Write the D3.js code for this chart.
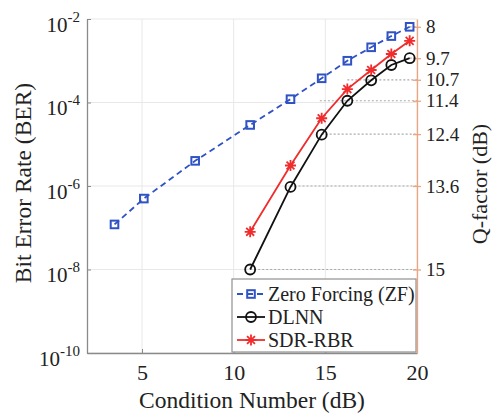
<!DOCTYPE html>
<html>
<head>
<meta charset="utf-8">
<script src="https://cdn.jsdelivr.net/npm/d3@7"></script>
<style>
  body { margin: 0; background: #fff; }
  svg text { font-family: "Liberation Serif", "Times New Roman", serif; fill: #222; }
</style>
</head>
<body>
<svg id="chart" width="492" height="415"></svg>
<script>
// condition numbers (dB)
const zfCond = [3.5, 5.1, 7.9, 10.9, 13.1, 14.8, 16.2, 17.5, 18.6, 19.6];
const zfBer = [1.2e-7, 5e-7, 4e-6, 2.9e-5, 1.2e-4, 3.8e-4, 1.0e-3, 2.1e-3, 3.9e-3, 6.5e-3];

const nnCond = [10.9, 13.1, 14.8, 16.2, 17.5, 18.6, 19.6];
const dlnnBer = [1e-8, 9.5e-7, 1.7e-5, 1.1e-4, 3.4e-4, 7.9e-4, 1.15e-3];
const sdrBer = [8e-8, 3.1e-6, 4.2e-5, 2.1e-4, 6.0e-4, 1.45e-3, 3.0e-3];

const xTicks = [5, 10, 15, 20];
const yTicks = [1e-2, 1e-4, 1e-6, 1e-8, 1e-10];
const yTickExp = ["-2", "-4", "-6", "-8", "-10"];

// right axis: Q-factor labels placed at their BER
const qLabels = ["8", "9.7", "10.7", "11.4", "12.4", "13.6", "15"];
const qBer = [6.5e-3, 1.15e-3, 3.5e-4, 1.1e-4, 1.75e-5, 1e-6, 1e-8];
const qLineFrom = [19.6, 19.6, 16.2, 14.7, 14.8, 13.1, 10.9];

const series = [
  { name: "Zero Forcing (ZF)", x: zfCond, y: zfBer, color: "#2f52c4", dash: "6,4", marker: "square" },
  { name: "DLNN", x: nnCond, y: dlnnBer, color: "#111", dash: null, marker: "circle" },
  { name: "SDR-RBR", x: nnCond, y: sdrBer, color: "#f02c2c", dash: null, marker: "star" }
];

const M = { top: 19, right: 75, bottom: 62, left: 87 };
const W = 492, H = 415;
const svg = d3.select("#chart");

const x = d3.scaleLinear().domain([2, 20]).range([M.left, W - M.right]);
const y = d3.scaleLog().domain([1e-10, 1e-2]).range([H - M.bottom, M.top]);

const orange = "#eca57f";
const axisGray = "#8a8a8a";

// grid
const grid = svg.append("g").attr("stroke", "#e8e8e8").attr("stroke-width", 1);
xTicks.forEach(t => grid.append("line")
  .attr("x1", x(t)).attr("x2", x(t)).attr("y1", y.range()[1]).attr("y2", y.range()[0]));
yTicks.forEach(t => grid.append("line")
  .attr("x1", x.range()[0]).attr("x2", x.range()[1]).attr("y1", y(t)).attr("y2", y(t)));

// dotted Q-factor guides
svg.append("g").selectAll("line").data(qBer).join("line")
  .attr("x1", (d, i) => x(qLineFrom[i])).attr("x2", x.range()[1])
  .attr("y1", d => y(d)).attr("y2", d => y(d))
  .attr("stroke", "#aaa").attr("stroke-width", 1.2).attr("stroke-dasharray", "2,2");

// x axis
const gx = svg.append("g").attr("transform", `translate(0,${y.range()[0]})`)
  .call(d3.axisBottom(x).tickValues(xTicks).tickSizeInner(-4).tickSizeOuter(0).tickPadding(11));
gx.select(".domain").attr("stroke", axisGray).attr("stroke-width", 1.3);
gx.selectAll(".tick line").attr("stroke", axisGray);
gx.selectAll(".tick text").attr("font-size", 22).attr("fill", "#222")
  .attr("font-family", "Liberation Serif, serif");

// y axis (left)
const gy = svg.append("g").attr("transform", `translate(${x.range()[0]},0)`)
  .call(d3.axisLeft(y).tickValues(yTicks).tickSizeInner(-4).tickSizeOuter(0).tickFormat(""));
gy.select(".domain").attr("stroke", axisGray).attr("stroke-width", 1.3);
gy.selectAll(".tick line").attr("stroke", axisGray);
gy.selectAll(".tick").each(function(d, i) {
  const t = d3.select(this).append("text")
    .attr("x", -7).attr("y", 12).attr("text-anchor", "end")
    .attr("font-size", 21).attr("fill", "#222");
  t.append("tspan").text("10");
  t.append("tspan").attr("font-size", 15).attr("dy", -10).text(yTickExp[i]);
});

// right axis (Q-factor)
const gr = svg.append("g").attr("transform", `translate(${x.range()[1]},0)`)
  .call(d3.axisRight(y).tickValues(qBer).tickSizeInner(4).tickSizeOuter(0).tickPadding(5)
    .tickFormat((d, i) => qLabels[i]));
gr.select(".domain").attr("stroke", orange).attr("stroke-width", 1.3);
gr.selectAll(".tick line").attr("stroke", orange).attr("x1", -4).attr("stroke-width", 1.3);
gr.selectAll(".tick text").attr("font-size", 19).attr("fill", "#222")
  .attr("font-family", "Liberation Serif, serif");

// lines
const line = d3.line().x(d => x(d[0])).y(d => y(d[1]));

function drawMarker(g, type, color) {
  if (type === "square") {
    g.append("rect").attr("x", -3.8).attr("y", -3.8).attr("width", 7.6).attr("height", 7.6)
      .attr("fill", "none").attr("stroke", color).attr("stroke-width", 2);
  } else if (type === "circle") {
    g.append("circle").attr("r", 5).attr("fill", "none").attr("stroke", color).attr("stroke-width", 1.8);
  } else {
    const r = 5.5, s = r * 0.72;
    g.append("path")
      .attr("d", `M${-r},0H${r}M0,${-r}V${r}M${-s},${-s}L${s},${s}M${-s},${s}L${s},${-s}`)
      .attr("stroke", color).attr("stroke-width", 1.8).attr("fill", "none");
  }
}

series.forEach(s => {
  const pts = s.x.map((v, i) => [v, s.y[i]]);
  svg.append("path").datum(pts)
    .attr("d", line).attr("fill", "none")
    .attr("stroke", s.color).attr("stroke-width", 1.8)
    .attr("stroke-dasharray", s.dash);
  svg.append("g").selectAll("g").data(pts).join("g")
    .attr("transform", d => `translate(${x(d[0])},${y(d[1])})`)
    .each(function() { drawMarker(d3.select(this), s.marker, s.color); });
});

// legend
const lg = svg.append("g").attr("transform", "translate(232,279)");
lg.append("rect").attr("width", 184).attr("height", 73)
  .attr("fill", "#fff").attr("stroke", "#909090").attr("stroke-width", 1.2);
series.forEach((s, i) => {
  const row = lg.append("g").attr("transform", `translate(0,${15 + i * 23})`);
  row.append("line").attr("x1", 5).attr("x2", 33).attr("y1", 0).attr("y2", 0)
    .attr("stroke", s.color).attr("stroke-width", 1.8).attr("stroke-dasharray", s.dash);
  drawMarker(row.append("g").attr("transform", "translate(19,0)"), s.marker, s.color);
  row.append("text").attr("x", 36).attr("y", 7).attr("font-size", 20).text(s.name);
});

// axis titles
svg.append("text").attr("x", (x.range()[0] + x.range()[1]) / 2).attr("y", 408)
  .attr("text-anchor", "middle").attr("font-size", 23.5).text("Condition Number (dB)");
svg.append("text").attr("transform", "translate(31,183) rotate(-90)")
  .attr("text-anchor", "middle").attr("font-size", 23.5).text("Bit Error Rate (BER)");
svg.append("text").attr("transform", "translate(487,184) rotate(-90)")
  .attr("text-anchor", "middle").attr("font-size", 22).text("Q-factor (dB)");
</script>
</body>
</html>
